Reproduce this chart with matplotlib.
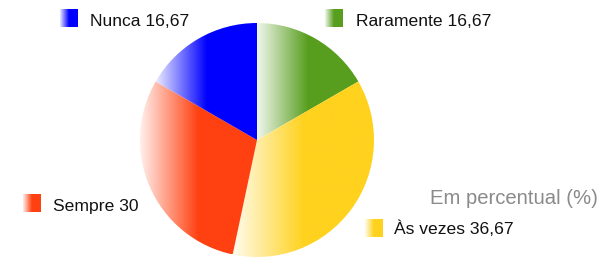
import numpy as np
import matplotlib
matplotlib.use('Agg')
import matplotlib.pyplot as plt
from matplotlib.colors import to_rgb

# data
labels = ['Raramente', 'Às vezes', 'Sempre', 'Nunca']
values = [16.67, 36.67, 30, 16.67]
colors = ['#589E1E', '#FFD21E', '#FF4010', '#0000FF']
note = 'Em percentual (%)'

# layout (pixels, y down)
W, H = 603, 257
center = (257, 140)
radius = 117
legend_pos = {
    'Raramente': (325, 9.5, 356, 26),
    'Às vezes': (365, 219.5, 394, 234.5),
    'Sempre': (23, 194.5, 53, 210.5),
    'Nunca': (60, 9.5, 90, 26),
}
box = 17.5

plt.rcParams['font.family'] = ['Liberation Sans', 'DejaVu Sans']


def gradient(color, n=200, start=0.08):
    c = np.array(to_rgb(color))
    t = np.clip(np.linspace(0, 2, n), 0, 1)
    t = start + (1 - start) * t
    img = (1 - t)[:, None] * np.ones(3) + t[:, None] * c
    return img[None, :, :]


def fmt(v):
    return ('%g' % v).replace('.', ',')


fig = plt.figure(figsize=(W / 100, H / 100), dpi=100)
ax = fig.add_axes([0, 0, 1, 1])

wedges, _ = ax.pie(values, center=center, radius=radius, startangle=-90,
                   counterclock=True, colors=colors,
                   wedgeprops=dict(linewidth=0))
ax.set_xlim(0, W)
ax.set_ylim(H, 0)
ax.set_aspect('auto')
ax.axis('off')

for w, c in zip(wedges, colors):
    ext = w.get_path().get_extents()
    w.set_facecolor('none')
    im = ax.imshow(gradient(c), extent=(ext.x0, ext.x1, ext.y1, ext.y0),
                   aspect='auto', interpolation='bilinear', zorder=2)
    im.set_clip_path(w)

for lab, v, c in zip(labels, values, colors):
    bx, by, tx, ty = legend_pos[lab]
    ax.imshow(gradient(c), extent=(bx, bx + box, by + box, by),
              aspect='auto', interpolation='bilinear', zorder=3)
    ax.text(tx, ty, f'{lab} {fmt(v)}', fontsize=12.6, color='#111111',
            va='baseline', ha='left')

ax.text(598, 204, note, fontsize=14.6, color='#8a8a8a', va='baseline',
        ha='right')

ax.set_xlim(0, W)
ax.set_ylim(H, 0)
fig.savefig('out.png', dpi=100)
